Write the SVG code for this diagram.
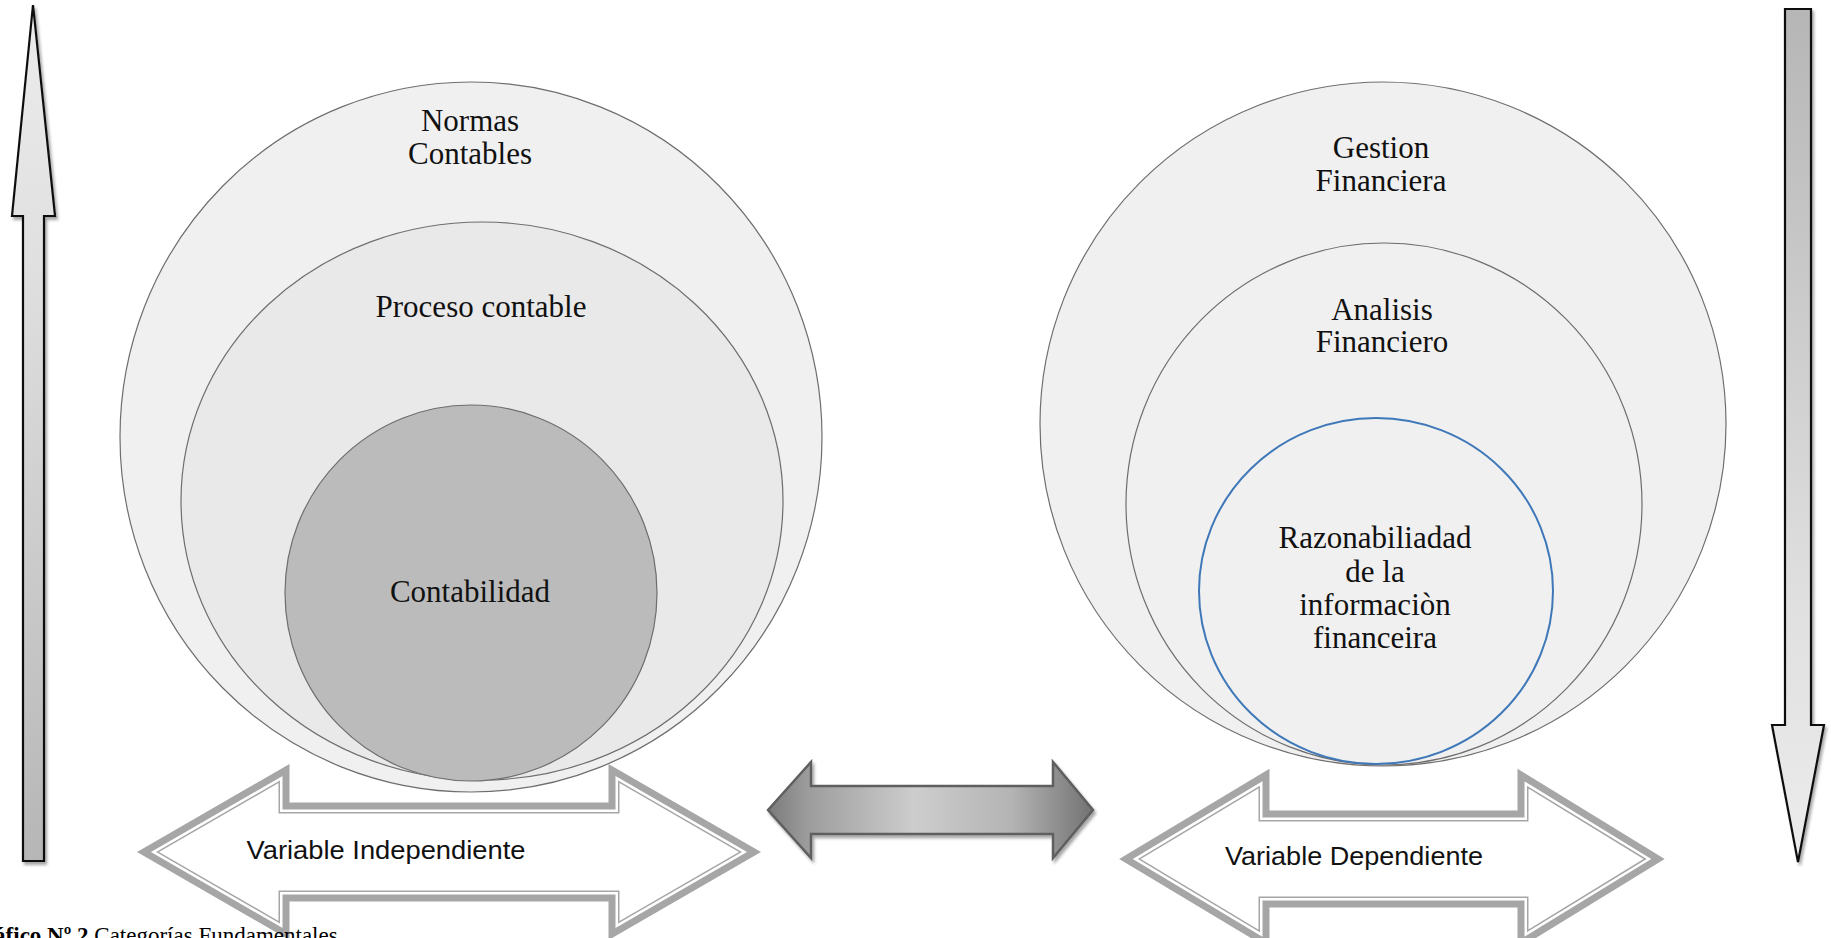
<svg xmlns="http://www.w3.org/2000/svg" xmlns:xlink="http://www.w3.org/1999/xlink" width="1831" height="938" viewBox="0 0 1831 938">
<style>
.circ{stroke:#6e6e6e;stroke-width:1.2}
.lbl{font-family:"Liberation Serif","Times New Roman",serif;font-size:31px;fill:#111;text-anchor:middle}
.var{font-family:"Liberation Sans",Arial,sans-serif;font-size:25px;fill:#111;text-anchor:middle}
.cap{font-family:"Liberation Serif","Times New Roman",serif;font-size:23px;fill:#000}
.vert{stroke:#111;stroke-width:2.2;stroke-linejoin:miter}
.dbl-main{fill:none;stroke:#a6a6a6;stroke-width:7;stroke-linejoin:miter}
.dbl-gray{fill:none;stroke:#a6a6a6;stroke-width:15;stroke-linejoin:miter}
.dbl-white{fill:none;stroke:#ffffff;stroke-width:12;stroke-linejoin:miter}
</style>
<defs>
<filter id="sh" x="-20%" y="-20%" width="140%" height="140%">
<feDropShadow dx="2" dy="3" stdDeviation="1.5" flood-color="#000" flood-opacity="0.35"/>
</filter>
<linearGradient id="gUp" x1="0" y1="0" x2="0" y2="1">
<stop offset="0" stop-color="#ececec"/>
<stop offset="0.3" stop-color="#e0e0e0"/>
<stop offset="1" stop-color="#b6b6b6"/>
</linearGradient>
<linearGradient id="gDown" x1="0" y1="0" x2="0" y2="1">
<stop offset="0" stop-color="#b6b6b6"/>
<stop offset="0.7" stop-color="#e0e0e0"/>
<stop offset="1" stop-color="#ececec"/>
</linearGradient>
<linearGradient id="gMid" x1="0" y1="0" x2="1" y2="0">
<stop offset="0" stop-color="#7a7a7a"/>
<stop offset="0.12" stop-color="#9c9c9c"/>
<stop offset="0.45" stop-color="#cdcdcd"/>
<stop offset="0.75" stop-color="#b4b4b4"/>
<stop offset="1" stop-color="#727272"/>
</linearGradient>
<polygon id="arrL" points="144,852 286,770 286,806 612,806 612,770 754,852 612,934 612,898 286,898 286,934"/>
<polygon id="arrR" points="1126,859 1266,775 1266,814 1521,814 1521,775 1658,859 1521,943 1521,904 1266,904 1266,943"/>
<clipPath id="clipL"><use xlink:href="#arrL"/></clipPath>
<clipPath id="clipR"><use xlink:href="#arrR"/></clipPath>
</defs>
<rect width="1831" height="938" fill="#ffffff"/>

<g id="connectors">
<polygon id="arrow-up" class="vert" fill="url(#gUp)" filter="url(#sh)" points="33,5 55,216 44,216 44,861 23,861 23,216 12,216"/>
<polygon id="arrow-down" class="vert" fill="url(#gDown)" filter="url(#sh)" points="1785,9 1811,9 1811,725 1824,725 1798,862 1772,725 1785,725"/>
<polygon id="arrow-mid" fill="url(#gMid)" stroke="#5e5e5e" stroke-width="2.5" filter="url(#sh)" points="768,810 811,762 811,786 1053,786 1053,762 1093,810 1053,858 1053,834 811,834 811,858"/>
</g>

<g id="left-outer">
<ellipse class="circ" cx="471" cy="437" rx="351" ry="355" fill="#f0f0f0"/>
<text class="lbl" x="470" y="131">Normas</text>
<text class="lbl" x="470" y="164">Contables</text>
</g>
<g id="left-middle">
<ellipse class="circ" cx="482" cy="501" rx="301" ry="279" fill="#e9e9e9"/>
<text class="lbl" x="481" y="317">Proceso contable</text>
</g>
<g id="left-inner">
<ellipse class="circ" cx="471" cy="593" rx="186" ry="188" fill="#bbbbbb"/>
<text class="lbl" x="470" y="602">Contabilidad</text>
</g>

<g id="right-outer">
<ellipse class="circ" cx="1383" cy="424" rx="343" ry="342" fill="#f0f0f0"/>
<text class="lbl" x="1381" y="158">Gestion</text>
<text class="lbl" x="1381" y="191">Financiera</text>
</g>
<g id="right-middle">
<ellipse class="circ" cx="1384" cy="504" rx="258" ry="261" fill="#f0f0f0"/>
<text class="lbl" x="1382" y="320">Analisis</text>
<text class="lbl" x="1382" y="352">Financiero</text>
</g>
<g id="right-inner">
<ellipse cx="1376" cy="591" rx="177" ry="173" fill="#f0f0f0" stroke="#3f78b8" stroke-width="2"/>
<text class="lbl" x="1375" y="548">Razonabiliadad</text>
<text class="lbl" x="1375" y="582">de la</text>
<text class="lbl" x="1375" y="615">informaciòn</text>
<text class="lbl" x="1375" y="648">financeira</text>
</g>

<g id="var-independiente">
<use xlink:href="#arrL" fill="#ffffff"/>
<use xlink:href="#arrL" class="dbl-gray" clip-path="url(#clipL)"/>
<use xlink:href="#arrL" class="dbl-white" clip-path="url(#clipL)"/>
<use xlink:href="#arrL" class="dbl-main"/>
<text class="var" x="386" y="859" textLength="279" lengthAdjust="spacingAndGlyphs">Variable Independiente</text>
</g>
<g id="var-dependiente">
<use xlink:href="#arrR" fill="#ffffff"/>
<use xlink:href="#arrR" class="dbl-gray" clip-path="url(#clipR)"/>
<use xlink:href="#arrR" class="dbl-white" clip-path="url(#clipR)"/>
<use xlink:href="#arrR" class="dbl-main"/>
<text class="var" x="1354" y="865" textLength="258" lengthAdjust="spacingAndGlyphs">Variable Dependiente</text>
</g>

<g id="caption">
<text class="cap" x="-34" y="943"><tspan font-weight="bold">Gráfico Nº 2</tspan> Categorías Fundamentales</text>
</g>
</svg>
